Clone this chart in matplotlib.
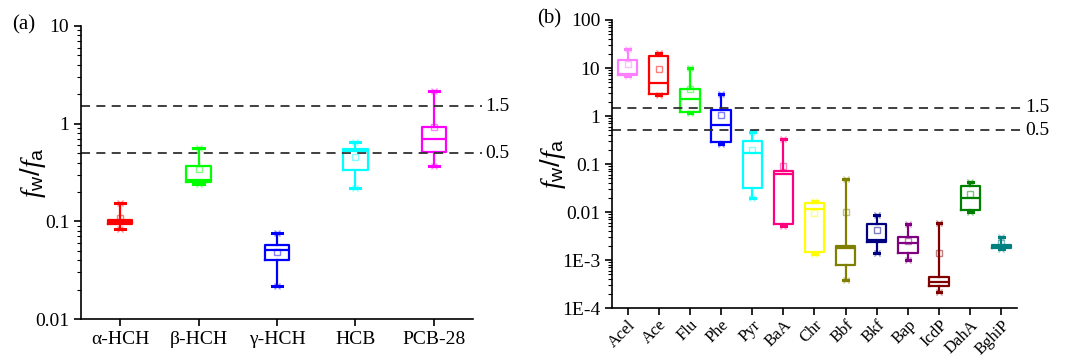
import matplotlib
matplotlib.use("Agg")
import matplotlib.pyplot as plt
import matplotlib.transforms as mtrans
from matplotlib.ticker import LogLocator, NullFormatter, FixedLocator, FixedFormatter

plt.rcParams['font.family'] = ['Liberation Serif', 'DejaVu Serif']
plt.rcParams['mathtext.fontset'] = 'custom'
plt.rcParams['mathtext.it'] = 'Liberation Serif:italic'
plt.rcParams['mathtext.rm'] = 'Liberation Sans'

# ---- Panel (a) data ----
cats_a = ['α-HCH', 'β-HCH', 'γ-HCH', 'HCB', 'PCB-28']
colors_a = ['#FF0000', '#00FF00', '#0000FF', '#00FFFF', '#FF00FF']
whishi_a = [0.154, 0.563, 0.076, 0.649, 2.16]
q3_a = [0.102, 0.369, 0.0568, 0.546, 0.925]
med_a = [0.098, 0.263, 0.0513, 0.52, 0.697]
q1_a = [0.093, 0.253, 0.0405, 0.333, 0.513]
whislo_a = [0.083, 0.243, 0.0218, 0.219, 0.369]
mean_a = [0.107, 0.34, 0.0486, 0.456, 0.92]

# ---- Panel (b) data ----
cats_b = ['Acel', 'Ace', 'Flu', 'Phe', 'Pyr', 'BaA', 'Chr', 'Bbf', 'Bkf', 'Bap',
          'IcdP', 'DahA', 'BghiP']
colors_b = ['#FF80FF', '#FF0000', '#00FF00', '#0000FF', '#00FFFF', '#FF0080',
            '#FFFF00', '#808000', '#000080', '#800080', '#800000', '#008000',
            '#008080']
whishi_b = [24.4, 20.8, 10.0, 2.92, 0.459, 0.325, 0.0173, 0.0478, 0.0088, 0.0055,
            0.00594, 0.0422, 0.00307]
q3_b = [14.5, 17.8, 3.59, 1.33, 0.30, 0.071, 0.0152, 0.00192, 0.00575, 0.00307,
        0.000446, 0.0345, 0.00204]
med_b = [7.5, 4.83, 2.24, 0.638, 0.168, 0.0626, 0.0117, 0.0018, 0.00258, 0.00224,
         0.000341, 0.0199, 0.0019]
q1_b = [7.16, 2.92, 1.23, 0.291, 0.0324, 0.00575, 0.00145, 0.0008, 0.00232, 0.00138,
        0.000292, 0.0111, 0.00177]
whislo_b = [6.7, 2.8, 1.17, 0.26, 0.0193, 0.0052, 0.00135, 0.00038, 0.00138, 0.001,
            0.00022, 0.0098, 0.00166]
mean_b = [12.4, 9.6, 3.6, 1.07, 0.197, 0.091, 0.0095, 0.0102, 0.00414, 0.0025,
          0.0014, 0.0233, 0.0023]

ref_lines = [1.5, 0.5]
ref_labels = ['1.5', '0.5']

fig = plt.figure(figsize=(10.67, 3.59), dpi=100)
ax_a = fig.add_axes([0.0759, 0.1114, 0.3674, 0.8162])
ax_b = fig.add_axes([0.5736, 0.1420, 0.3795, 0.8023])


def draw(ax, cats, colors, whishi, q3, med, q1, whislo, mean, width, capw, ticks,
         ticklabels, ylim, line_ext, lab_x, rot):
    stats = []
    for i in range(len(cats)):
        stats.append(dict(med=med[i], q1=q1[i], q3=q3[i], whislo=whislo[i],
                          whishi=whishi[i], mean=mean[i], fliers=[]))
    pos = list(range(len(cats)))
    art = ax.bxp(stats, positions=pos, widths=width, showmeans=True,
                 showfliers=False, capwidths=capw, patch_artist=False)
    for i, c in enumerate(colors):
        art['boxes'][i].set(color=c, linewidth=1.6)
        art['medians'][i].set(color=c, linewidth=1.6)
        for k in (2 * i, 2 * i + 1):
            art['whiskers'][k].set(color=c, linewidth=1.6)
            art['caps'][k].set(color=c, linewidth=2.2)
        art['means'][i].set(marker='s', markerfacecolor='none',
                            markeredgecolor=c, alpha=0.5, markersize=5,
                            markeredgewidth=1)
    for i, c in enumerate(colors):
        ax.plot([pos[i], pos[i]], [whishi[i], whislo[i]], linestyle='none',
                marker='x', color=c, alpha=0.45, markersize=5, mew=1)
    ax.set_yscale('log')
    ax.set_ylim(*ylim)
    ax.set_xlim(-0.5, len(cats) - 0.5)
    ax.yaxis.set_major_locator(FixedLocator(ticks))
    ax.yaxis.set_major_formatter(FixedFormatter(ticklabels))
    ax.yaxis.set_minor_locator(LogLocator(base=10, subs=range(2, 10), numticks=50))
    ax.yaxis.set_minor_formatter(NullFormatter())
    ax.set_xticks(pos)
    if rot:
        ax.set_xticklabels(cats, rotation=45, ha='right', rotation_mode='anchor',
                           fontsize=12)
        ax.tick_params(axis='x', pad=1.5)
    else:
        ax.set_xticklabels(cats, fontsize=14)
    ax.tick_params(axis='y', which='major', direction='out', length=5, width=1.2,
                   labelsize=14)
    ax.tick_params(axis='y', which='minor', direction='out', length=3, width=0.8)
    ax.tick_params(axis='x', which='major', direction='out', length=5, width=1.2)
    for s in ('top', 'right'):
        ax.spines[s].set_visible(False)
    for s in ('left', 'bottom'):
        ax.spines[s].set_linewidth(1.2)
    trans = mtrans.blended_transform_factory(ax.transAxes, ax.transData)
    for v, lab in zip(ref_lines, ref_labels):
        ax.plot([0, line_ext], [v, v], transform=trans, clip_on=False,
                color='#303030', linestyle=(0, (5, 3.5)), linewidth=1.3)
        ax.text(lab_x, v, lab, transform=trans, va='center', ha='left', fontsize=14)
    ax.set_ylabel(r'$f_\mathrm{w}/f_\mathrm{a}$', fontsize=20)


draw(ax_a, cats_a, colors_a, whishi_a, q3_a, med_a, q1_a, whislo_a, mean_a,
     0.31, 0.13, [10, 1, 0.1, 0.01], ['10', '1', '0.1', '0.01'], (0.01, 10),
     1.023, 1.03, False)
draw(ax_b, cats_b, colors_b, whishi_b, q3_b, med_b, q1_b, whislo_b, mean_b,
     0.62, 0.15, [100, 10, 1, 0.1, 0.01, 1e-3, 1e-4],
     ['100', '10', '1', '0.1', '0.01', '1E-3', '1E-4'], (1e-4, 100),
     1.015, 1.02, True)

ax_a.yaxis.set_label_coords(-0.084, 0.5)
ax_b.yaxis.set_label_coords(-0.108, 0.5)

fig.text(0.011, 0.93, '(a)', fontsize=15, va='center', ha='left')
fig.text(0.503, 0.948, '(b)', fontsize=15, va='center', ha='left')

fig.savefig('out.png', dpi=100)
